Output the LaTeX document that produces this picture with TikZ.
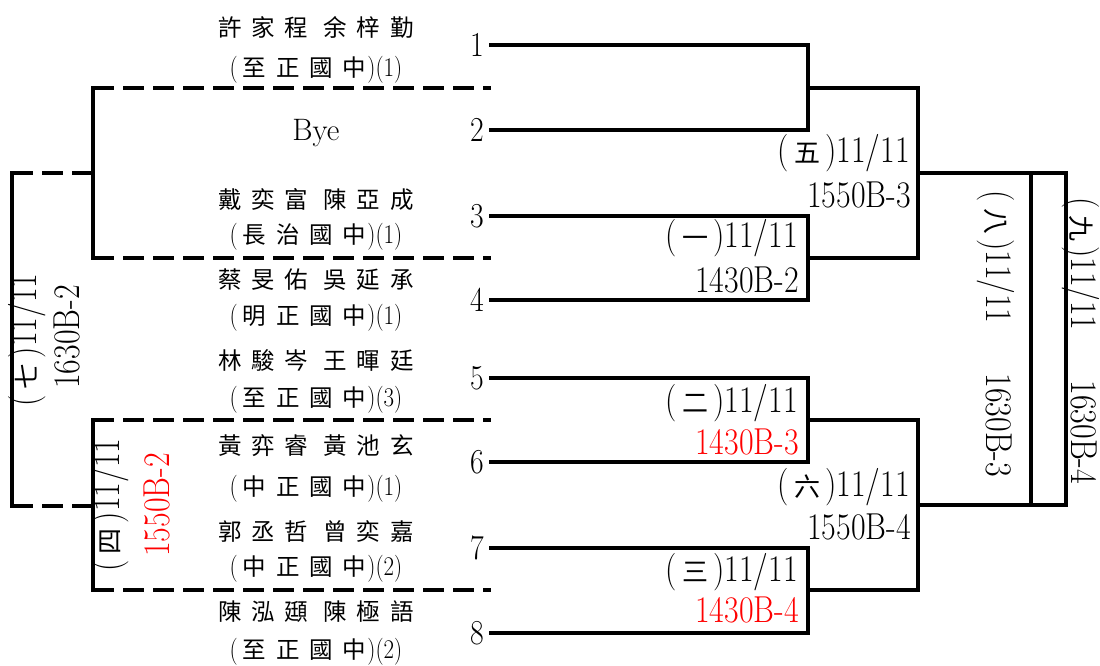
\documentclass[tikz,border=0pt]{standalone}
\usepackage{fontspec}
\setmainfont{Latin Modern Roman}[FakeStretch=0.85]
\newfontfamily\plainlm{Latin Modern Roman}
\newfontfamily\cjk{Noto Sans CJK TC}
\newfontfamily\cjkls{Noto Sans CJK TC}[LetterSpace=42]
\usetikzlibrary{positioning,calc}
\definecolor{lblred}{HTML}{FF0000}
\tikzset{
  bracket/.style={line width=4pt,line cap=rect},
  dashbracket/.style={line width=4pt,dash pattern=on 21pt off 9pt},
  seednum/.style={font=\fontsize{35}{40}\selectfont,anchor=east,inner sep=7pt},
  player/.style={font=\cjkls\fontsize{23.5}{28}\selectfont,inner sep=0pt},
  school/.style={font=\fontsize{27}{30}\selectfont,inner sep=0pt},
  byelbl/.style={font=\plainlm\fontsize{31}{34}\selectfont,inner sep=0pt},
  matchlbl/.style={font=\fontsize{37.5}{40}\selectfont,anchor=east,inner sep=0pt},
  matchred/.style={matchlbl,text=lblred}
}
\newcommand{\rnd}[1]{(\hspace{6pt}{\cjk\fontsize{26}{28}\selectfont #1}\hspace{5pt})}
\newcommand{\schl}[2]{(\hspace{5pt}{\cjkls\fontsize{23.5}{28}\selectfont #1}\hspace{1pt})(#2)}

\begin{document}
\begin{tikzpicture}[x=1pt,y=-1pt]
  \useasboundingbox (0,0) rectangle (1100,666);

  % seed numbers
  \foreach \i/\y in {1/45,2/130,3/216,4/300,5/378,6/462,7/548,8/633}
    \node[seednum] (s\i) at (491,\y) {\i};

  % players
  \foreach \i/\y/\nm/\yy/\sc/\k in {1/28/許家程 余梓勤/70/至正國中/1,
      3/200/戴奕富 陳亞成/237/長治國中/1, 4/280/蔡旻佑 吳延承/318/明正國中/1,
      5/360/林駿岑 王暉廷/400/至正國中/3, 6/446/黃弈睿 黃池玄/489/中正國中/1,
      7/532/郭丞哲 曾奕嘉/569/中正國中/2, 8/612/陳泓頲 陳極語/652/至正國中/2} {
    \node[player] (p\i) at (316,\y) {\nm};
    \node[school] (c\i) at (316,\yy) {\schl{\sc}{\k}};
  }
  \node[byelbl] (p2) at (316,133) {Bye};

  % junctions
  \coordinate (r12) at (808,88);
  \coordinate (r34) at (808,258);
  \coordinate (r56) at (808,420);
  \coordinate (r78) at (808,590);
  \coordinate (q5) at (918,173);
  \coordinate (q6) at (918,505);
  \coordinate (f8t) at (1031,173);
  \coordinate (f8b) at (1031,505);
  \coordinate (f9t) at (1066,173);
  \coordinate (f9b) at (1066,505);

  \draw[bracket] (s1.east) -| (r12) |- (s2.east);
  \draw[bracket] (s3.east) -| (r34) |- (s4.east);
  \draw[bracket] (s5.east) -| (r56) |- (s6.east);
  \draw[bracket] (s7.east) -| (r78) |- (s8.east);
  \draw[bracket] (r12) -| (q5) |- (r34);
  \draw[bracket] (r56) -| (q6) |- (r78);
  \draw[bracket] (q5) -- (f9t) -- (f9b) -- (q6);
  \draw[bracket] (f8t) -- (f8b);

  % left side, dashed
  \coordinate (a1) at (93,88);
  \coordinate (a2) at (93,258);
  \coordinate (a3) at (93,420);
  \coordinate (a4) at (93,590);
  \coordinate (b1) at (93,173);
  \coordinate (b2) at (93,506);
  \coordinate (e1) at (12,173);
  \coordinate (e2) at (12,506);
  \draw[bracket] (a1) -- (a2);
  \draw[bracket] (a3) -- (a4);
  \draw[bracket] (e1) -- (e2);
  \foreach \a/\s in {a1/s1,a2/s4,a3/s5,a4/s8}
    \draw[dashbracket] (\a) -- (\a -| \s.east);
  \draw[dashbracket] (e1) -- (b1);
  \draw[dashbracket] (e2) -- (b2);

  % match labels
  \node[matchlbl] (m5a) at (910,153) {\rnd{五}11/11};
  \node[matchlbl] (m5b) at (911,195) {1550B-3};
  \node[matchlbl] (m1a) at (798,238) {\rnd{一}11/11};
  \node[matchlbl] (m1b) at (799,280) {1430B-2};
  \node[matchlbl] (m2a) at (798,403) {\rnd{二}11/11};
  \node[matchred] (m2b) at (799,442) {1430B-3};
  \node[matchlbl] (m6a) at (910,487) {\rnd{六}11/11};
  \node[matchlbl] (m6b) at (911,527) {1550B-4};
  \node[matchlbl] (m3a) at (798,572) {\rnd{三}11/11};
  \node[matchred] (m3b) at (799,610) {1430B-4};

  \node[matchlbl,anchor=center,rotate=90] (m7a) at (27,340) {\rnd{七}11/11};
  \node[matchlbl,anchor=center,rotate=90] (m7b) at (67,337) {1630B-2};
  \node[matchlbl,anchor=center,rotate=90] (m4a) at (110,505) {\rnd{四}11/11};
  \node[matchred,anchor=center,rotate=90] (m4b) at (157,505) {1550B-2};
  \node[matchlbl,anchor=center,rotate=-90] (m8) at (996,334) {\rnd{八}11/11\hspace{50pt}1630B-3};
  \node[matchlbl,anchor=center,rotate=-90] (m9) at (1081,341) {\rnd{九}11/11\hspace{50pt}1630B-4};
\end{tikzpicture}
\end{document}
